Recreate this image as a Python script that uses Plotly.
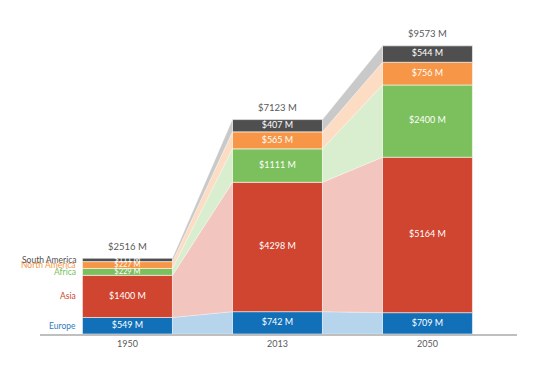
import plotly.graph_objects as go

years = ["1950", "2013", "2050"]
regions = ["Europe", "Asia", "Africa", "North America", "South America"]
europe = [549, 742, 709]
asia = [1400, 4298, 5164]
africa = [229, 1111, 2400]
north_america = [227, 565, 756]
south_america = [111, 407, 544]
totals = [2516, 7123, 9573]

series = [europe, asia, africa, north_america, south_america]
colors = ["#1170b8", "#cf4530", "#7bc05c", "#f79646", "#4f4f4f"]
label_colors = ["#2e7cc0", "#cf4530", "#7bc05c", "#f79646", "#4f4f4f"]
light = ["#b6d4ec", "#f2c6bf", "#d9eecf", "#fcdcc3", "#c9c9c9"]

BW = 0.6
xs = list(range(len(years)))
fig = go.Figure()

# cumulative bases
bases = []
acc = [0] * len(years)
for s in series:
    bases.append(acc[:])
    acc = [a + v for a, v in zip(acc, s)]

# connectors
for k, s in enumerate(series):
    for i in range(len(years) - 1):
        b0, t0 = bases[k][i], bases[k][i] + s[i]
        b1, t1 = bases[k][i + 1], bases[k][i + 1] + s[i + 1]
        xl, xr = xs[i] + BW / 2, xs[i + 1] - BW / 2
        fig.add_trace(go.Scatter(
            x=[xl, xl, xr, xr, xl], y=[b0, t0, t1, b1, b0],
            fill="toself", fillcolor=light[k], mode="lines",
            line=dict(width=0.5, color="rgba(255,255,255,0.6)"),
            hoverinfo="skip", showlegend=False))

# bars
for k, s in enumerate(series):
    fig.add_trace(go.Bar(
        x=xs, y=s, base=bases[k], width=BW, name=regions[k],
        marker=dict(color=colors[k], line=dict(color="rgba(255,255,255,0.7)", width=0.8)),
        showlegend=False, hoverinfo="skip"))

# segment labels
for k, s in enumerate(series):
    ys = [b + v / 2 for b, v in zip(bases[k], s)]
    sizes = [7.5 if v < 300 else 9 for v in s]
    fig.add_trace(go.Scatter(
        x=xs, y=ys, mode="text", text=[f"${v} M" for v in s],
        textfont=dict(color="white", size=sizes, family="Lato"),
        hoverinfo="skip", showlegend=False))

# totals
for i, t in enumerate(totals):
    fig.add_annotation(
        x=xs[i], y=t, text=f"${t} M", showarrow=False,
        yanchor="middle", yshift=12,
        font=dict(color="#595959", size=9.5, family="Lato"))

# region labels at left
for k, s in enumerate(series):
    fig.add_annotation(
        x=xs[0] - BW / 2, y=bases[k][0] + s[0] / 2, text=regions[k],
        xanchor="right", yanchor="middle", xshift=-4, showarrow=False,
        font=dict(color=label_colors[k], size=8.5, family="Lato"))

fig.update_layout(
    width=550, height=374,
    margin=dict(l=32, r=41, t=22, b=48),
    plot_bgcolor="white", paper_bgcolor="white",
    barmode="overlay",
    xaxis=dict(range=[-0.583, 2.597], tickvals=xs, ticktext=years,
               showgrid=False, zeroline=False, showline=True,
               linecolor="#bfbfbf", linewidth=1.5, ticks="",
               tickfont=dict(color="#595959", size=9, family="Lato")),
    yaxis=dict(range=[0, 10100], visible=False, showgrid=False),
)

fig.write_html("out.html")
